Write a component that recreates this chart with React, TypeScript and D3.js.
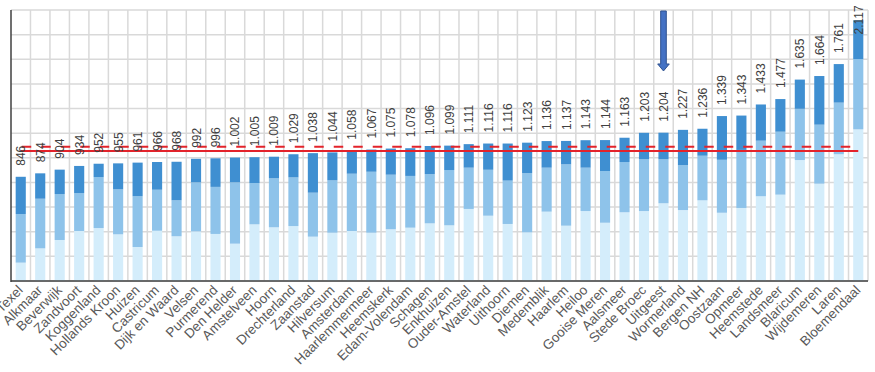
import React from "react";
import * as d3 from "d3";

const categories = ["Texel","Alkmaar","Beverwijk","Zandvoort","Koggenland","Hollands Kroon","Huizen","Castricum","Dijk en Waard","Velsen","Purmerend","Den Helder","Amstelveen","Hoorn","Drechterland","Zaanstad","Hilversum","Amsterdam","Haarlemmermeer","Heemskerk","Edam-Volendam","Schagen","Enkhuizen","Ouder-Amstel","Waterland","Uithoorn","Diemen","Medemblik","Haarlem","Heiloo","Gooise Meren","Aalsmeer","Stede Broec","Uitgeest","Wormerland","Bergen NH","Oostzaan","Opmeer","Heemstede","Landsmeer","Blaricum","Wijdemeren","Laren","Bloemendaal"];

const totals = [846,874,904,934,952,955,961,966,968,992,996,1002,1005,1009,1029,1038,1044,1058,1067,1075,1078,1096,1099,1111,1116,1116,1123,1136,1137,1143,1144,1163,1203,1204,1227,1236,1339,1343,1433,1477,1635,1664,1761,2117];

const seriesLight = [149,265,333,406,430,379,276,408,363,403,382,303,460,436,446,360,392,406,392,420,433,468,452,585,530,463,395,563,449,568,473,558,568,631,576,655,554,593,688,701,982,790,1029,1231];
const seriesMid = [395,403,373,308,414,365,412,333,292,398,382,498,335,398,395,357,425,465,495,443,420,400,449,335,373,352,481,357,498,352,420,408,420,357,365,362,430,471,451,511,416,479,419,571];
const seriesDark = [302,206,198,220,108,211,273,225,313,191,232,201,210,175,188,321,227,187,180,212,225,228,198,191,213,301,247,216,190,223,251,197,215,216,286,219,355,279,294,265,237,395,313,315];

const yTicks = [0,200,400,600,800,1000,1200,1400,1600,1800,2000,2200];
const refSolid = 1055;
const refDashed = 1090;
const arrowCategory = "Uitgeest";
const arrowFrom = 2192;
const arrowTo = 1705;

const W = 875, H = 372;
const L = 11, R = 868, T = 10, B = 281;

const nl = d3.formatLocale({ decimal: ",", thousands: ".", grouping: [3], currency: ["€", ""] });
const fmt = nl.format(",d");

export default function App() {
  const x = d3.scaleBand<string>().domain(categories).range([L, R]).paddingInner(0).paddingOuter(0);
  const y = d3.scaleLinear().domain([0, 2200]).range([B, T]);
  const bw = x.bandwidth();
  const barW = bw * 0.52;
  const rows = categories.map((c, i) => ({ c, light: seriesLight[i], mid: seriesMid[i], dark: seriesDark[i] }));
  const stack = d3.stack<any>().keys(["light", "mid", "dark"])(rows);
  const colors: Record<string, string> = { light: "#d4edfb", mid: "#8ec3ea", dark: "#3f8fd1" };
  const cx = (c: string) => (x(c) as number) + bw / 2;
  const first = cx(categories[0]);
  const last = cx(categories[categories.length - 1]);
  const ax = cx(arrowCategory);
  const aTop = y(arrowFrom), aTip = y(arrowTo);
  const headH = 7;
  return (
    <svg width={W} height={H} style={{ position: "absolute", left: 0, top: 0, fontFamily: "Liberation Sans, Arial, sans-serif" }}>
      <rect width={W} height={H} fill="#fff" />
      {yTicks.map((t) => (
        <line key={"h" + t} x1={L} x2={R} y1={y(t)} y2={y(t)} stroke="#d9d9d9" strokeWidth={1.5} />
      ))}
      {categories.map((c) => (
        <line key={"v" + c} x1={(x(c) as number) + bw} x2={(x(c) as number) + bw} y1={T} y2={B} stroke="#d9d9d9" strokeWidth={1.5} />
      ))}
      {stack.map((s) => (
        <g key={s.key} fill={colors[s.key]}>
          {s.map((d, i) => (
            <rect key={i} x={cx(categories[i]) - barW / 2} width={barW} y={y(d[1])} height={y(d[0]) - y(d[1])} />
          ))}
        </g>
      ))}
      <line x1={first} x2={last} y1={y(refSolid)} y2={y(refSolid)} stroke="#e3232b" strokeWidth={2} />
      <line x1={first} x2={last} y1={y(refDashed)} y2={y(refDashed)} stroke="#e3232b" strokeWidth={2} strokeDasharray="9.5,10" strokeDashoffset={-1} />
      <line x1={L} x2={L} y1={T} y2={B + 1} stroke="#404040" strokeWidth={1.5} />
      <line x1={L} x2={R} y1={B} y2={B} stroke="#404040" strokeWidth={1.5} />
      {categories.map((c, i) => {
        const top = y(totals[i]);
        const txt = fmt(totals[i]);
        const len = txt.length * 6.5;
        const yy = Math.max(top - 11, 2 + len);
        return (
          <text key={"l" + c} transform={`translate(${cx(c) + 4.5},${yy}) rotate(-90)`} fontSize={12} fill="#404040">{txt}</text>
        );
      })}
      {categories.map((c) => (
        <text key={"x" + c} transform={`translate(${cx(c) + 3},${B + 10}) rotate(-45)`} textAnchor="end" fontSize={13.5} fill="#595959">{c}</text>
      ))}
      <path
        d={`M${ax - 2.8},${aTop} L${ax + 2.8},${aTop} L${ax + 2.8},${aTip - headH} L${ax + 5.8},${aTip - headH} L${ax},${aTip} L${ax - 5.8},${aTip - headH} L${ax - 2.8},${aTip - headH} Z`}
        fill="#4472c4" stroke="#2f528f" strokeWidth={1}
      />
    </svg>
  );
}
